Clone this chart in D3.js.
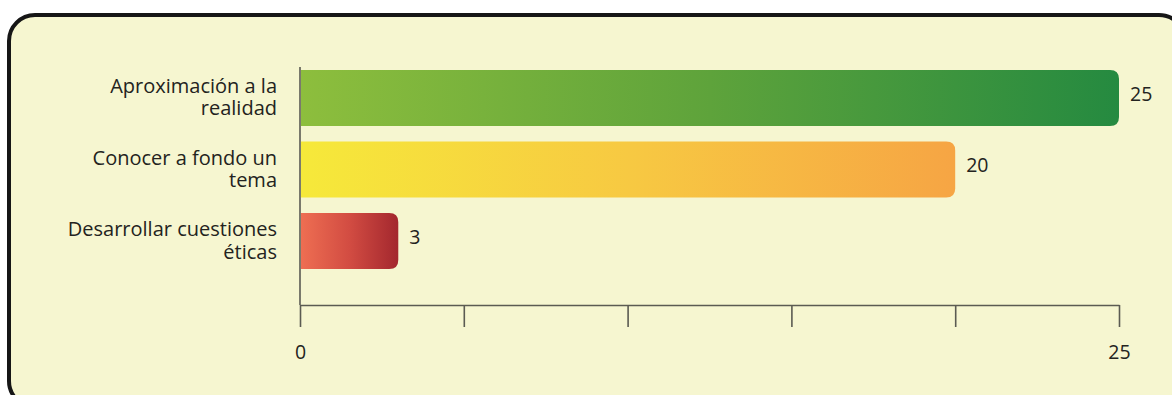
<!DOCTYPE html>
<html>
<head>
<meta charset="utf-8">
<script src="https://cdn.jsdelivr.net/npm/d3@7"></script>
<style>
  html, body { margin: 0; padding: 0; background: #ffffff; }
  svg { display: block; }
  text { font-family: "Open Sans", "Noto Sans", sans-serif; fill: #232320; }
</style>
</head>
<body>
<svg id="chart" width="1172" height="395"></svg>
<script>
// Motivos y número de respuestas
const categories = [
  ["Aproximación a la", "realidad"],
  ["Conocer a fondo un", "tema"],
  ["Desarrollar cuestiones", "éticas"]
];
const values = [25, 20, 3];
const tickValues = [0, 5, 10, 15, 20, 25];
const tickLabels = ["0", "", "", "", "", "25"];
const gradients = [
  ["#8dbe3d", "#5ea33b", "#258a40"],
  ["#f6e93a", "#f7c942", "#f6a544"],
  ["#ee6e52", "#d24c42", "#a3272e"]
];

const svg = d3.select("#chart");

// Marco redondeado de fondo
svg.append("rect")
  .attr("x", 9).attr("y", 15)
  .attr("width", 1176).attr("height", 392)
  .attr("rx", 26).attr("ry", 26)
  .attr("fill", "#f6f6d0")
  .attr("stroke", "#161616")
  .attr("stroke-width", 4);

const defs = svg.append("defs");
gradients.forEach((g, i) => {
  const lg = defs.append("linearGradient")
    .attr("id", "grad" + i)
    .attr("x1", "0%").attr("x2", "100%")
    .attr("y1", "0%").attr("y2", "0%");
  g.forEach((c, j) => {
    lg.append("stop").attr("offset", (j / (g.length - 1) * 100) + "%").attr("stop-color", c);
  });
});

const x = d3.scaleLinear().domain([0, 25]).range([300, 1119]);
const y = d3.scaleBand()
  .domain(d3.range(categories.length))
  .range([70, 269])
  .paddingInner(0.217)
  .paddingOuter(0);

const axisY = 305;

// Eje vertical
svg.append("line")
  .attr("x1", x(0)).attr("x2", x(0))
  .attr("y1", 67).attr("y2", axisY)
  .attr("stroke", "#5b5b52").attr("stroke-width", 1.6);

// Eje horizontal
const xAxis = d3.axisBottom(x)
  .tickValues(tickValues)
  .tickFormat((d, i) => tickLabels[i])
  .tickSizeInner(22)
  .tickSizeOuter(0)
  .tickPadding(18);

const gx = svg.append("g")
  .attr("transform", `translate(0,${axisY})`)
  .call(xAxis);
gx.select(".domain").attr("stroke", "#5b5b52").attr("stroke-width", 1.6);
gx.selectAll(".tick line").attr("stroke", "#5b5b52").attr("stroke-width", 1.6);
gx.selectAll(".tick text")
  .attr("font-size", 19.5)
  .attr("font-family", "'Open Sans', 'Noto Sans', sans-serif")
  .attr("fill", "#232320");

// Barras con esquinas derechas redondeadas
function barPath(x0, x1, y0, h, r) {
  const rr = Math.min(r, (x1 - x0), h / 2);
  return `M${x0},${y0}H${x1 - rr}Q${x1},${y0} ${x1},${y0 + rr}V${y0 + h - rr}Q${x1},${y0 + h} ${x1 - rr},${y0 + h}H${x0}Z`;
}

svg.append("g").selectAll("path")
  .data(values)
  .join("path")
  .attr("d", (d, i) => barPath(x(0) + 1, x(d), y(i), y.bandwidth(), 9))
  .attr("fill", (d, i) => `url(#grad${i})`);

// Valores
svg.append("g").selectAll("text")
  .data(values)
  .join("text")
  .attr("x", d => x(d) + 11)
  .attr("y", (d, i) => y(i) + y.bandwidth() / 2 - 4)
  .attr("dy", "0.35em")
  .attr("font-size", 19.5)
  .text(d => d);

// Etiquetas de categorías
const labels = svg.append("g").selectAll("text")
  .data(categories)
  .join("text")
  .attr("text-anchor", "end")
  .attr("font-size", 20)
  .attr("x", 277)
  .attr("y", (d, i) => y(i) + y.bandwidth() / 2 - 5);
labels.selectAll("tspan")
  .data(d => d)
  .join("tspan")
  .attr("x", 277)
  .attr("dy", (d, j) => j === 0 ? 0 : 22.5)
  .text(d => d);
</script>
</body>
</html>
